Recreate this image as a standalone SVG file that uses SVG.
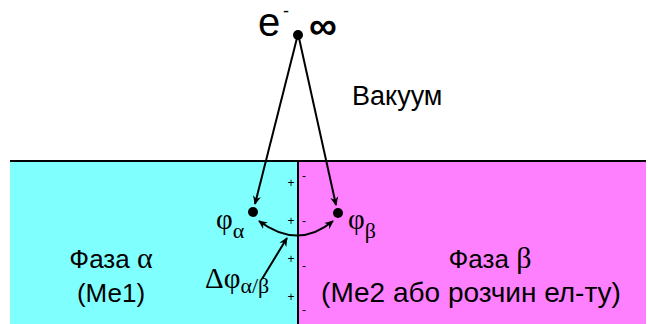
<svg xmlns="http://www.w3.org/2000/svg" width="648" height="324" viewBox="0 0 648 324">
<style>
.t{font-family:"Liberation Sans",Arial,sans-serif;fill:#000}
.g{font-family:"Liberation Serif","Times New Roman",serif;fill:#000}
.ln{stroke:#000;stroke-width:2;fill:none}
.s{font-family:"Liberation Sans",Arial,sans-serif;font-size:12px;fill:#000;text-anchor:middle}
</style>
<defs>
<marker id="ah" viewBox="0 0 10 10" refX="9" refY="5" markerWidth="9" markerHeight="9" orient="auto-start-reverse" markerUnits="userSpaceOnUse">
<path d="M0,0.5 L10,5 L0,9.5 L3,5 Z" fill="#000"/>
</marker>
</defs>
<g id="phase-alpha">
<rect x="10" y="161" width="288" height="163" fill="#80FFFF"/>
<text class="t" x="111" y="268" font-size="26" text-anchor="middle">Фаза <tspan class="g" font-size="30">α</tspan></text>
<text class="t" x="111" y="302" font-size="26" text-anchor="middle">(Ме1)</text>
</g>
<g id="phase-beta">
<rect x="298" y="161" width="348" height="163" fill="#FF80FF"/>
<text class="t" x="490" y="268" font-size="26" text-anchor="middle">Фаза <tspan class="g" font-size="30">β</tspan></text>
<text class="t" x="471" y="302" font-size="28" text-anchor="middle">(Ме2 або розчин ел-ту)</text>
</g>
<g id="boundary">
<line x1="10" y1="161" x2="646" y2="161" stroke="#000" stroke-width="2"/>
<line x1="298" y1="161" x2="298" y2="324" stroke="#000" stroke-width="2"/>
<text class="s" x="291" y="187">+</text>
<text class="s" x="291" y="225">+</text>
<text class="s" x="291" y="263">+</text>
<text class="s" x="291" y="301">+</text>
<text class="s" x="304" y="180">-</text>
<text class="s" x="304" y="225">-</text>
<text class="s" x="304" y="270">-</text>
<text class="s" x="304" y="314">-</text>
</g>
<g id="electron">
<circle cx="298" cy="35" r="5" fill="#000"/>
<text class="t" x="258" y="36" font-size="40">e</text>
<text class="t" x="283" y="17" font-size="18">-</text>
<text class="t" x="309" y="39" font-size="39" font-weight="bold">∞</text>
</g>
<g id="vacuum">
<text class="t" x="352" y="105" font-size="27">Вакуум</text>
</g>
<g id="phi-alpha">
<circle cx="253" cy="212" r="5" fill="#000"/>
<text class="g" x="216" y="229" font-size="29">φ<tspan font-size="22" dy="9">α</tspan></text>
</g>
<g id="phi-beta">
<circle cx="338" cy="213" r="5" fill="#000"/>
<text class="g" x="348" y="229" font-size="29">φ<tspan font-size="22" dy="9">β</tspan></text>
</g>
<g id="delta-phi">
<text class="g" x="205" y="288" font-size="29">Δφ<tspan font-size="22" dy="5">α/β</tspan></text>
</g>
<g id="connectors">
<line class="ln" x1="297" y1="38" x2="255" y2="204" marker-end="url(#ah)"/>
<line class="ln" x1="299" y1="38" x2="336" y2="205" marker-end="url(#ah)"/>
<path class="ln" d="M259,221 Q298,250 333,221" marker-start="url(#ah)" marker-end="url(#ah)"/>
<line class="ln" x1="262" y1="279" x2="287" y2="238" marker-end="url(#ah)"/>
</g>
</svg>
